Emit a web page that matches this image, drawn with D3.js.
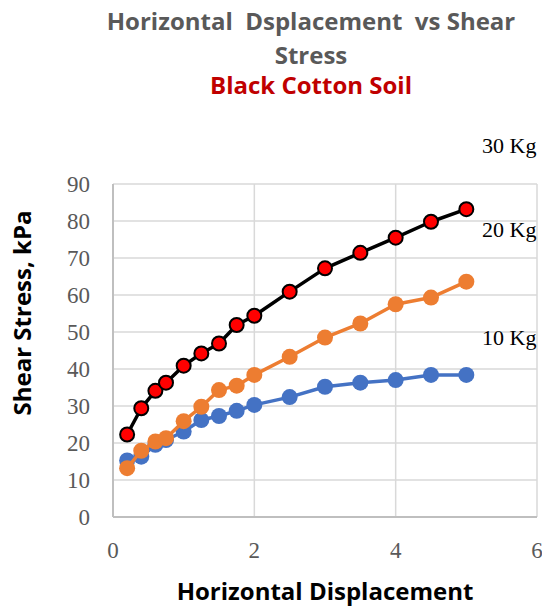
<!DOCTYPE html>
<html>
<head>
<meta charset="utf-8">
<script src="https://cdn.jsdelivr.net/npm/d3@7"></script>
<style>
  body { margin: 0; background: #fff; }
</style>
</head>
<body>
<svg id="chart"></svg>
<script>
// displacement readings (same for all three loads)
var displacement = [0.2, 0.4, 0.6, 0.75, 1.0, 1.25, 1.5, 1.75, 2.0, 2.5, 3.0, 3.5, 4.0, 4.5, 5.0];
var stress10 = [15.3, 16.3, 19.5, 20.8, 23.1, 26.2, 27.3, 28.7, 30.3, 32.4, 35.2, 36.3, 37.0, 38.4, 38.4];
var stress20 = [13.2, 17.9, 20.4, 21.3, 25.9, 29.8, 34.3, 35.5, 38.4, 43.3, 48.5, 52.3, 57.5, 59.3, 63.6];
var stress30 = [22.3, 29.4, 34.1, 36.3, 40.9, 44.2, 46.9, 51.9, 54.4, 60.9, 67.2, 71.4, 75.5, 79.8, 83.2];
var xTicks = [0, 2, 4, 6];
var yTicks = [0, 10, 20, 30, 40, 50, 60, 70, 80, 90];
var loadLabels = ["30 Kg", "20 Kg", "10 Kg"];

var width = 542, height = 610;
var margin = { top: 184, right: 5, bottom: 93, left: 113 };

var svg = d3.select("#chart")
  .attr("width", width)
  .attr("height", height);

var x = d3.scaleLinear().domain([0, 6]).range([margin.left, 537]);
var y = d3.scaleLinear().domain([0, 90]).range([517, margin.top]);

// grid
svg.append("g").selectAll("line")
  .data(yTicks)
  .enter().append("line")
  .attr("x1", x(0)).attr("x2", x(6))
  .attr("y1", d => y(d)).attr("y2", d => y(d))
  .attr("stroke", "#d9d9d9").attr("stroke-width", 1.5);

svg.append("g").selectAll("line")
  .data(xTicks)
  .enter().append("line")
  .attr("x1", d => x(d)).attr("x2", d => x(d))
  .attr("y1", y(0)).attr("y2", y(90))
  .attr("stroke", "#d9d9d9").attr("stroke-width", 1.5);

// axes lines
svg.append("line")
  .attr("x1", x(0)).attr("x2", x(0)).attr("y1", y(0)).attr("y2", y(90))
  .attr("stroke", "#bfbfbf").attr("stroke-width", 2);
svg.append("line")
  .attr("x1", x(0)).attr("x2", x(6)).attr("y1", y(0)).attr("y2", y(0))
  .attr("stroke", "#bfbfbf").attr("stroke-width", 2);

// tick labels
svg.append("g").selectAll("text")
  .data(yTicks)
  .enter().append("text")
  .attr("x", 90)
  .attr("y", d => y(d))
  .attr("dy", "0.35em")
  .attr("text-anchor", "end")
  .attr("font-family", "Liberation Serif, serif")
  .attr("font-size", 23)
  .attr("fill", "#595959")
  .text(d => d);

svg.append("g").selectAll("text")
  .data(xTicks)
  .enter().append("text")
  .attr("x", d => x(d))
  .attr("y", 550)
  .attr("dy", "0.35em")
  .attr("text-anchor", "middle")
  .attr("font-family", "Liberation Serif, serif")
  .attr("font-size", 23)
  .attr("fill", "#595959")
  .text(d => d);

// series
var series = [
  { values: stress10, color: "#4472c4", r: 8 },
  { values: stress20, color: "#ed7d31", r: 8 },
  { values: stress30, color: "#000000", r: 7, fill: "#ff0000" }
];

var line = d3.line()
  .x(d => x(d[0]))
  .y(d => y(d[1]));

series.forEach(function(s) {
  var pts = displacement.map((d, i) => [d, s.values[i]]);
  svg.append("path")
    .datum(pts)
    .attr("fill", "none")
    .attr("stroke", s.color)
    .attr("stroke-width", 3.5)
    .attr("stroke-linejoin", "round")
    .attr("d", line);
  svg.append("g").selectAll("circle")
    .data(pts)
    .enter().append("circle")
    .attr("cx", d => x(d[0]))
    .attr("cy", d => y(d[1]))
    .attr("r", s.r)
    .attr("fill", s.fill || s.color)
    .attr("stroke", s.fill ? "#000" : "none")
    .attr("stroke-width", 2);
});

// load labels
svg.append("g").selectAll("text")
  .data(loadLabels)
  .enter().append("text")
  .attr("x", 482)
  .attr("y", (d, i) => [153, 237, 345][i])
  .attr("font-family", "Liberation Serif, serif")
  .attr("font-size", 22)
  .attr("fill", "#000")
  .text(d => d);

// titles
svg.append("text")
  .attr("x", 311).attr("y", 30)
  .attr("text-anchor", "middle")
  .attr("font-family", "Open Sans, sans-serif")
  .attr("font-weight", "bold")
  .attr("font-size", 24)
  .attr("fill", "#595959")
  .attr("xml:space", "preserve")
  .text("Horizontal  Dsplacement  vs Shear");
svg.append("text")
  .attr("x", 311).attr("y", 64)
  .attr("text-anchor", "middle")
  .attr("font-family", "Open Sans, sans-serif")
  .attr("font-weight", "bold")
  .attr("font-size", 24)
  .attr("fill", "#595959")
  .text("Stress");
svg.append("text")
  .attr("x", 311).attr("y", 94)
  .attr("text-anchor", "middle")
  .attr("font-family", "Open Sans, sans-serif")
  .attr("font-weight", "bold")
  .attr("font-size", 24)
  .attr("fill", "#c00000")
  .text("Black Cotton Soil");

svg.append("text")
  .attr("x", 325).attr("y", 600)
  .attr("text-anchor", "middle")
  .attr("font-family", "Open Sans, sans-serif")
  .attr("font-weight", "bold")
  .attr("font-size", 24)
  .attr("fill", "#000")
  .text("Horizontal Displacement");

svg.append("text")
  .attr("transform", "translate(31,313) rotate(-90)")
  .attr("text-anchor", "middle")
  .attr("font-family", "Open Sans, sans-serif")
  .attr("font-weight", "bold")
  .attr("font-size", 24)
  .attr("fill", "#000")
  .text("Shear Stress, kPa");
</script>
</body>
</html>
